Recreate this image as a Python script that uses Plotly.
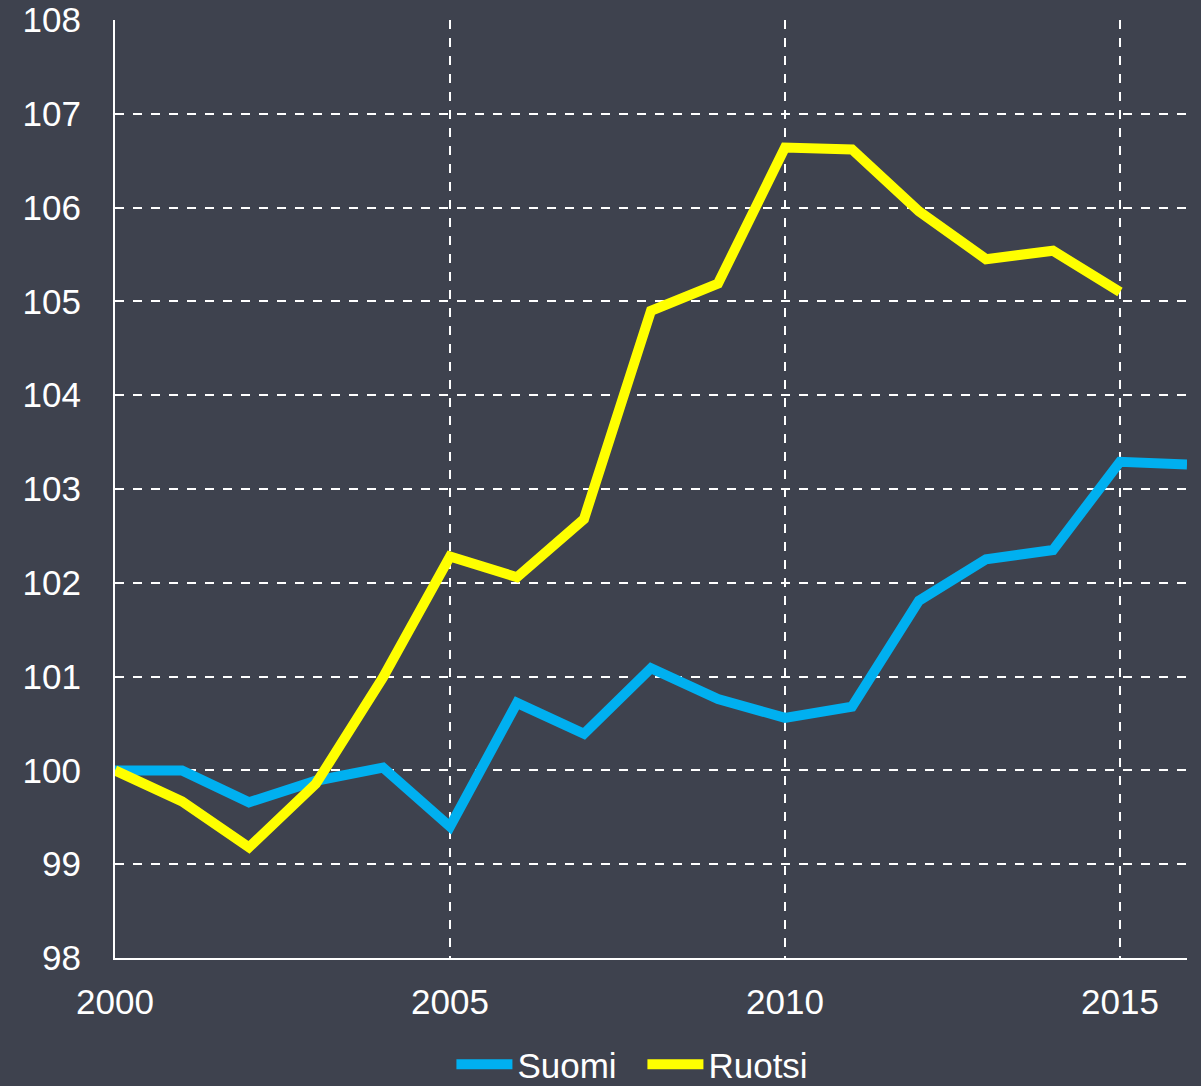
import plotly.graph_objects as go

years = list(range(2000, 2017))
suomi = [100.0, 100.0, 99.66, 99.89, 100.03, 99.40, 100.72, 100.39, 101.09, 100.76,
         100.56, 100.68, 101.81, 102.25, 102.35, 103.29, 103.26]
ruotsi_years = list(range(2000, 2016))
ruotsi = [100.0, 99.67, 99.18, 99.86, 100.99, 102.28, 102.06, 102.68, 104.90, 105.19,
          106.64, 106.62, 105.96, 105.45, 105.54, 105.10]

x_ticks = [2000, 2005, 2010, 2015]
y_ticks = list(range(98, 109))

fig = go.Figure()
fig.add_trace(go.Scatter(x=years, y=suomi, mode="lines", name="Suomi",
                         line=dict(color="#00b0f0", width=10)))
fig.add_trace(go.Scatter(x=ruotsi_years, y=ruotsi, mode="lines", name="Ruotsi",
                         line=dict(color="#ffff00", width=10)))

font = dict(family="Liberation Sans, Arial, sans-serif", size=35, color="white")
fig.update_layout(
    width=1201, height=1086,
    paper_bgcolor="#3e424e", plot_bgcolor="#3e424e",
    margin=dict(l=115, r=14, t=20, b=128, autoexpand=False),
    font=font,
    showlegend=True,
    legend=dict(orientation="h", x=0.492, xanchor="center", y=-0.082, yanchor="top",
                font=font, bgcolor="rgba(0,0,0,0)", itemwidth=56,
                entrywidth=120, entrywidthmode="pixels"),
    xaxis=dict(range=[2000, 2016], tickvals=x_ticks, ticktext=[str(v) for v in x_ticks],
               showgrid=True, gridcolor="white", griddash="dash", gridwidth=1.5,
               showline=True, linecolor="white", linewidth=2, zeroline=False,
               ticks="", tickfont=font, ticklabelstandoff=12, automargin=False),
    yaxis=dict(range=[98, 108], tickvals=y_ticks, ticktext=[str(v) for v in y_ticks],
               showgrid=True, gridcolor="white", griddash="dash", gridwidth=1.5,
               showline=True, linecolor="white", linewidth=2, zeroline=False,
               ticks="", tickfont=font, ticklabelstandoff=25, automargin=False),
)

fig.write_html("out.html", config={"displayModeBar": False},
               post_script="document.body.style.margin='0';document.body.style.overflow='hidden';"
                           "document.body.style.background='#3e424e';")
